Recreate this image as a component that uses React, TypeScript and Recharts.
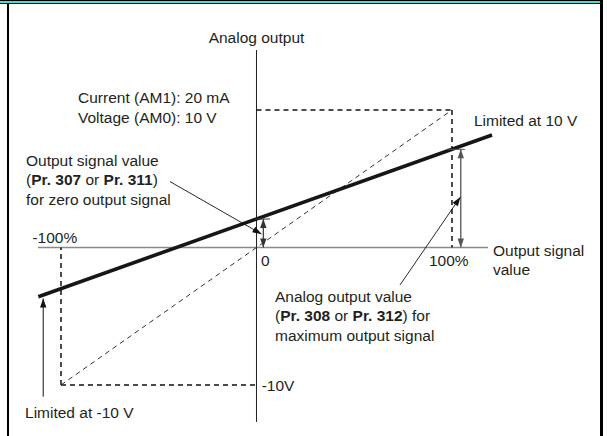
import React from "react"
import {
  ComposedChart,
  Line,
  XAxis,
  YAxis,
  ReferenceLine,
  ReferenceDot,
} from "recharts"

// data units: x = output signal in %, y = analog output in V
const X_DOMAIN = [-131.2, 179.3]
const Y_DOMAIN = [-13.71, 18.0]

// default characteristic: -100%..100% -> -10V..10V
const initialLine = [
  { x: -100, y: -10 },
  { x: 100, y: 10 },
]
// adjusted characteristic (bias/gain), limited at +-10V
const adjustedLine = [
  { x: -111.6, y: -3.58 },
  { x: 120.5, y: 8.18 },
]
const xTicks = [-100, 0, 100]
const xTickLabels = ["-100%", "0", "100%"]
const yLimits = [10, -10]
const biasAt0 = 2.07 // Pr.307 / Pr.311
const gainAt100 = 7.14 // Pr.308 / Pr.312

const FONT = "'Liberation Sans', Arial, Helvetica, sans-serif"
const INK = "#231f20"

type Seg = [string, boolean?]

function textShape(lines: Seg[][], anchor: "start" | "middle" = "start", lh = 19.5) {
  return (p: any) => (
    <text
      x={p.cx}
      y={p.cy}
      fontSize={15.5}
      fontFamily={FONT}
      fill={INK}
      textAnchor={anchor}
      style={{ whiteSpace: "pre" }}
    >
      {lines.map((segs, i) => (
        <tspan key={i} x={p.cx} dy={i === 0 ? 0 : lh}>
          {segs.map(([t, b], j) => (
            <tspan key={j} fontWeight={b ? "bold" : "normal"}>
              {t}
            </tspan>
          ))}
        </tspan>
      ))}
    </text>
  )
}

function head(tx: number, ty: number, fx: number, fy: number) {
  const a = Math.atan2(ty - fy, tx - fx)
  const L = 9
  const W = 3.2
  const bx = tx - L * Math.cos(a)
  const by = ty - L * Math.sin(a)
  const px = -Math.sin(a) * W
  const py = Math.cos(a) * W
  return `${tx},${ty} ${bx + px},${by + py} ${bx - px},${by - py}`
}

function arrowShape(both: boolean, color: string, w = 1) {
  return (p: any) => (
    <g>
      <line x1={p.x1} y1={p.y1} x2={p.x2} y2={p.y2} stroke={color} strokeWidth={w} />
      <polygon points={head(p.x2, p.y2, p.x1, p.y1)} fill={color} />
      {both && <polygon points={head(p.x1, p.y1, p.x2, p.y2)} fill={color} />}
    </g>
  )
}

const dash = { stroke: "#111", strokeWidth: 1.5, strokeDasharray: "5 4" }

export default function App() {
  return (
    <div
      style={{
        position: "absolute",
        left: 0,
        top: 0,
        width: 607,
        height: 436,
        background: "#fff",
        overflow: "hidden",
      }}
    >
      {/* frame */}
      <div style={{ position: "absolute", left: 0, top: 0, width: 603, height: 1, background: "#000" }} />
      <div style={{ position: "absolute", left: 0, top: 1, width: 600, height: 2, background: "#3ee0d8" }} />
      <div style={{ position: "absolute", left: 0, top: 3, width: 600, height: 1, background: "#000" }} />
      <div style={{ position: "absolute", left: 7, top: 3, width: 2, height: 433, background: "#000" }} />
      <div style={{ position: "absolute", left: 600, top: 0, width: 3, height: 436, background: "#000" }} />

      <div style={{ position: "absolute", left: 0, top: 0 }}>
        <ComposedChart width={607} height={436} margin={{ top: 0, right: 0, bottom: 0, left: 0 }}>
          <XAxis type="number" dataKey="x" domain={X_DOMAIN} allowDataOverflow hide />
          <YAxis type="number" dataKey="y" domain={Y_DOMAIN} allowDataOverflow hide />

          {/* axes */}
          <ReferenceLine
            segment={[{ x: -111.8, y: 0 }, { x: 118.4, y: 0 }]}
            stroke="#8a8a8a"
            strokeWidth={1.5}
            ifOverflow="visible"
          />
          <ReferenceLine
            segment={[{ x: 0, y: 14.36 }, { x: 0, y: -12.69 }]}
            stroke="#222"
            strokeWidth={1}
            ifOverflow="visible"
          />

          {/* dashed limits box */}
          <ReferenceLine segment={[{ x: 0, y: yLimits[0] }, { x: xTicks[2], y: yLimits[0] }]} {...dash} ifOverflow="visible" />
          <ReferenceLine segment={[{ x: xTicks[2], y: yLimits[0] }, { x: xTicks[2], y: 0 }]} {...dash} ifOverflow="visible" />
          <ReferenceLine segment={[{ x: xTicks[0], y: yLimits[1] }, { x: 0, y: yLimits[1] }]} {...dash} ifOverflow="visible" />
          <ReferenceLine segment={[{ x: xTicks[0], y: yLimits[1] }, { x: xTicks[0], y: 0 }]} {...dash} ifOverflow="visible" />

          <Line
            data={initialLine}
            dataKey="y"
            type="linear"
            stroke="#333"
            strokeWidth={1}
            strokeDasharray="5 4"
            dot={false}
            activeDot={false}
            isAnimationActive={false}
          />
          <Line
            data={adjustedLine}
            dataKey="y"
            type="linear"
            stroke="#161616"
            strokeWidth={3.6}
            dot={false}
            activeDot={false}
            isAnimationActive={false}
          />

          {/* bias marker at 0 */}
          <ReferenceLine segment={[{ x: -0.8, y: biasAt0 }, { x: 6.9, y: biasAt0 }]} stroke="#333" strokeWidth={1} ifOverflow="visible" />
          <ReferenceLine
            segment={[{ x: 3.5, y: biasAt0 }, { x: 3.5, y: 0 }]}
            stroke="#333"
            ifOverflow="visible"
            shape={arrowShape(true, "#333", 1.2)}
          />
          {/* gain marker at 100% */}
          <ReferenceLine segment={[{ x: 97.5, y: gainAt100 }, { x: 106.6, y: gainAt100 }]} stroke="#555" strokeWidth={1} ifOverflow="visible" />
          <ReferenceLine
            segment={[{ x: 104.5, y: gainAt100 }, { x: 104.5, y: 0 }]}
            stroke="#555"
            ifOverflow="visible"
            shape={arrowShape(true, "#555", 1.3)}
          />

          {/* leaders */}
          <ReferenceLine
            segment={[{ x: -44.2, y: 4.79 }, { x: 2.56, y: 0.98 }]}
            stroke="#111"
            ifOverflow="visible"
            shape={arrowShape(false, "#111", 0.9)}
          />
          <ReferenceLine
            segment={[{ x: 73.4, y: -2.73 }, { x: 104.3, y: 3.67 }]}
            stroke="#111"
            ifOverflow="visible"
            shape={arrowShape(false, "#111", 0.9)}
          />
          <ReferenceLine
            segment={[{ x: -109.1, y: -10.85 }, { x: -109.1, y: -3.71 }]}
            stroke="#111"
            ifOverflow="visible"
            shape={arrowShape(false, "#111", 1)}
          />

          {/* texts */}
          <ReferenceDot x={0} y={14.87} r={0} ifOverflow="visible" shape={textShape([[["Analog output"]]], "middle")} />
          <ReferenceDot
            x={-91.3}
            y={10.51}
            r={0}
            ifOverflow="visible"
            shape={textShape([[["Current (AM1): 20 mA"]], [["Voltage (AM0): 10 V"]]], "start", 20)}
          />
          <ReferenceDot
            x={-117.9}
            y={5.93}
            r={0}
            ifOverflow="visible"
            shape={textShape([
              [["Output signal value"]],
              [["("], ["Pr. 307", true], [" or "], ["Pr. 311", true], [")"]],
              [["for zero output signal"]],
            ])}
          />
          <ReferenceDot x={-114.6} y={0.31} r={0} ifOverflow="visible" shape={textShape([[[xTickLabels[0]]]])} />
          <ReferenceDot x={2.3} y={-1.31} r={0} ifOverflow="visible" shape={textShape([[[xTickLabels[1]]]])} />
          <ReferenceDot x={88.2} y={-1.35} r={0} ifOverflow="visible" shape={textShape([[[xTickLabels[2]]]])} />
          <ReferenceDot
            x={120.97}
            y={-0.62}
            r={0}
            ifOverflow="visible"
            shape={textShape([[["Output signal"]], [["value"]]], "start", 19)}
          />
          <ReferenceDot x={111.25} y={8.84} r={0} ifOverflow="visible" shape={textShape([[["Limited at 10 V"]]])} />
          <ReferenceDot
            x={9.46}
            y={-3.96}
            r={0}
            ifOverflow="visible"
            shape={textShape([
              [["Analog output value"]],
              [["("], ["Pr. 308", true], [" or "], ["Pr. 312", true], [") for"]],
              [["maximum output signal"]],
            ])}
          />
          <ReferenceDot x={2.66} y={-10.47} r={0} ifOverflow="visible" shape={textShape([[["-10V"]]])} />
          <ReferenceDot x={-118.4} y={-12.4} r={0} ifOverflow="visible" shape={textShape([[["Limited at -10 V"]]])} />
        </ComposedChart>
      </div>
    </div>
  )
}
